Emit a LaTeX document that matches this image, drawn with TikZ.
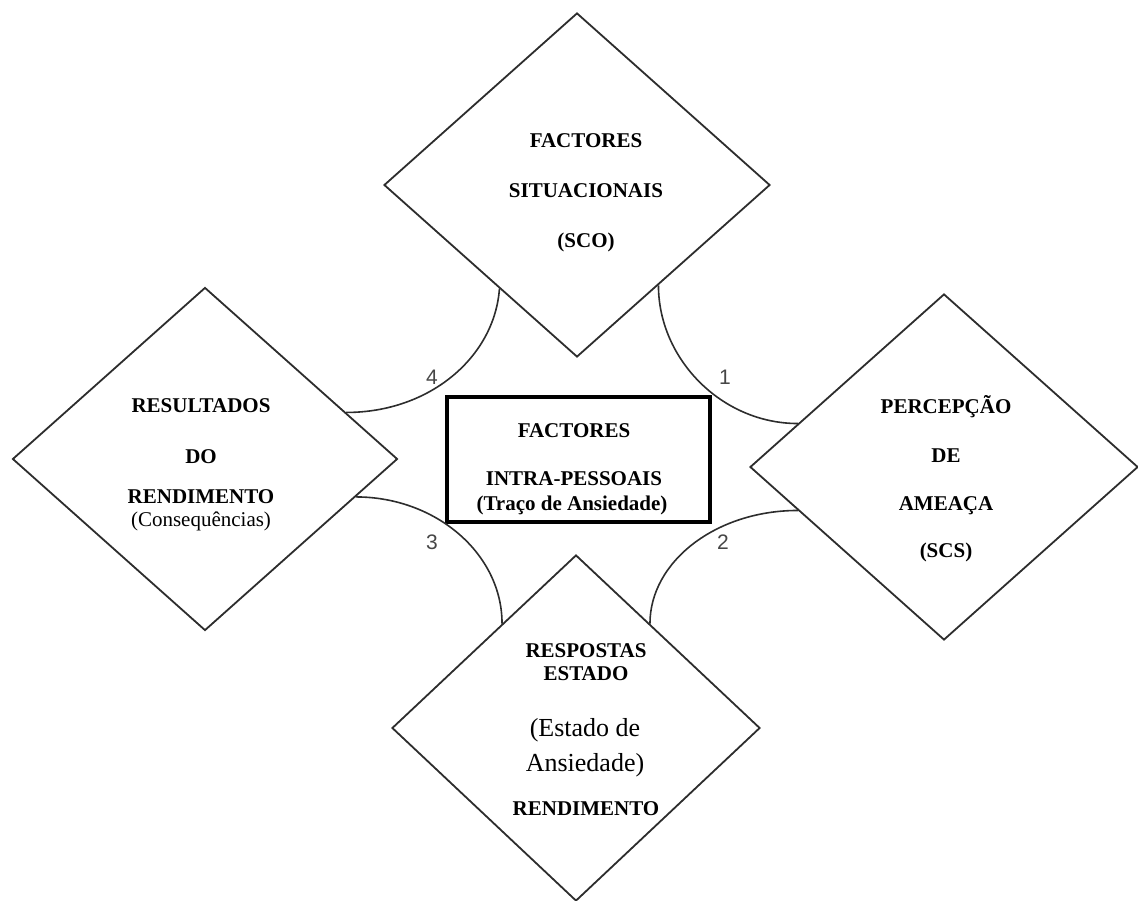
\documentclass[tikz,border=0pt]{standalone}
\usepackage{fontspec}
\setmainfont{Liberation Serif}
\newfontfamily\numfont{Liberation Sans}
\usetikzlibrary{shapes.geometric,calc}
\definecolor{ink}{RGB}{45,45,45}
\definecolor{numgray}{RGB}{70,70,70}
\tikzset{
  dbox/.style={diamond,draw=ink,line width=1.8pt,minimum width=386pt,minimum height=344pt,inner sep=0pt,fill=white},
  arcline/.style={draw=ink,line width=1.6pt},
  bl/.style={anchor=base,inner sep=0pt,font=\fontsize{21}{25}\selectfont\bfseries},
  rl/.style={anchor=base,inner sep=0pt,font=\fontsize{21}{25}\selectfont},
  bigl/.style={anchor=base,inner sep=0pt,font=\fontsize{26}{30}\selectfont},
  numl/.style={inner sep=0pt,text=numgray,font=\fontsize{21}{24}\numfont},
}
\begin{document}
\begin{tikzpicture}[x=1pt,y=-1pt]
\useasboundingbox (0,0) rectangle (1138,901);
% diamonds
\node[dbox] (top) at (577,185) {};
\node[dbox,minimum width=385pt,minimum height=343pt] (left) at (205,459) {};
\node[dbox,minimum width=388pt,minimum height=346pt] (right) at (944,467) {};
\node[dbox,minimum width=368pt,minimum height=346pt] (bottom) at (576,728) {};
% central box
\node[draw=black,line width=4pt,minimum width=263pt,minimum height=125pt,inner sep=0pt] (core) at (578.5,459.5) {};
% arcs
\draw[arcline] ($(top.south)!0.4!(top.west)$) .. controls +(-5,68) and +(84,0) .. ($(left.north)!0.73!(left.east)$);
\draw[arcline] ($(top.south)!0.42!(top.east)$) .. controls +(0,74) and +(-76,0) .. ($(right.north)!0.75!(right.west)$);
\draw[arcline] ($(left.east)!0.22!(left.south)$) .. controls +(80,0) and +(0,-70) .. ($(bottom.north)!0.4!(bottom.west)$);
\draw[arcline] ($(right.west)!0.25!(right.south)$) .. controls +(-82,0) and +(0,-62) .. ($(bottom.north)!0.4!(bottom.east)$);
% numbers
\node[numl] (n4) at (432,377) {4};
\node[numl] (n1) at (725,377) {1};
\node[numl] (n3) at (432,542) {3};
\node[numl] (n2) at (723,542) {2};
% top diamond text
\node[bl] (t1) at (586,148) {FACTORES};
\node[bl] (t2) at (586,198) {SITUACIONAIS};
\node[bl] (t3) at (586,248) {(SCO)};
% left diamond text
\node[bl] (l1) at (201,412) {RESULTADOS};
\node[bl] (l2) at (201,463) {DO};
\node[bl] (l3) at (201,503) {RENDIMENTO};
\node[rl] (l4) at (201,526) {(Consequências)};
% right diamond text
\node[bl] (r1) at (946,413) {PERCEPÇÃO};
\node[bl] (r2) at (946,462) {DE};
\node[bl] (r3) at (946,510) {AMEAÇA};
\node[bl] (r4) at (946,557) {(SCS)};
% bottom diamond text
\node[bl] (b1) at (586,657) {RESPOSTAS};
\node[bl] (b2) at (586,680) {ESTADO};
\node[bigl] (b3) at (585,736) {(Estado de};
\node[bigl] (b4) at (585,771) {Ansiedade)};
\node[bl] (b5) at (586,815) {RENDIMENTO};
% central text
\node[bl] (c1) at (574,437) {FACTORES};
\node[bl] (c2) at (574,485) {INTRA-PESSOAIS};
\node[bl] (c3) at (572,510) {(Traço de Ansiedade)};
\end{tikzpicture}
\end{document}
